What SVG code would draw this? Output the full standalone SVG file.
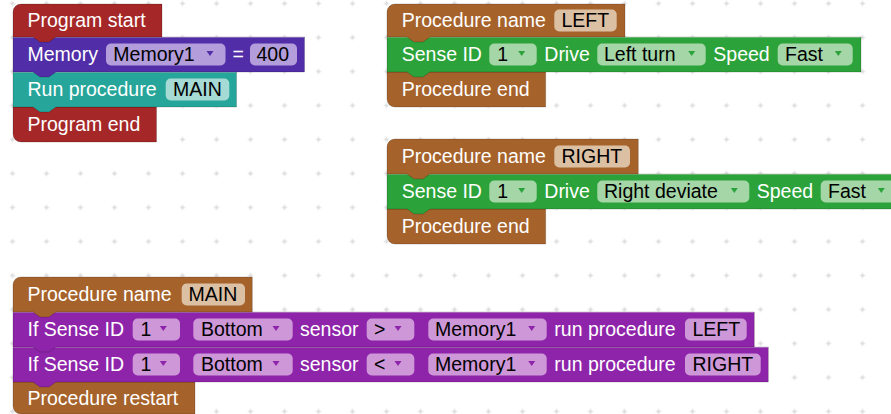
<svg xmlns="http://www.w3.org/2000/svg" xmlns:xlink="http://www.w3.org/1999/xlink" width="891" height="414" viewBox="0 0 891 414">
<style>
.t{font-family:"Liberation Sans",Arial,Helvetica,sans-serif;font-size:19.5px;fill:#fff}
.k{fill:#000}
.b{stroke:#000;stroke-opacity:.18;stroke-width:1}
.red{fill:#a52727}.ind{fill:#512da8}.teal{fill:#26a69a}.brn{fill:#a6622b}.grn{fill:#2ca33a}.pur{fill:#8e24aa}
.pind{fill:#b39ddb}.pteal{fill:#a6dad4}.pbrn{fill:#dcc0a4}.pgrn{fill:#a5d6a7}.ppur{fill:#ce97d8}
.hl{stroke:#fff;stroke-opacity:.3;stroke-width:1;fill:none}
</style>
<defs>
<pattern id="grid" x="-4.5" y="-13.5" width="34" height="34" patternUnits="userSpaceOnUse">
<path d="M14.5,17H19.5M17,14.5V19.5" stroke="#cfcfcf" stroke-width="1" fill="none"/>
</pattern>
<path id="arr" d="M-3.5,-3.5h7l-3.5,5z"/>
</defs>
<rect width="891" height="414" fill="#fff"/>
<rect width="891" height="414" fill="url(#grid)"/>
<g id="connectors"></g>

<!-- Stack A -->
<g id="program-end">
<path class="red b" d="M13,107H156.5V142H21A8,8 0 0 1 13,134Z"/>
<text class="t" x="27.5" y="131">Program end</text>
</g>
<g id="run-procedure">
<path class="teal b" d="M13,72H236.5V107H56L49,112H40L33,107H13Z"/>
<path class="hl" d="M13,72.5H236"/>
<text class="t" x="27.5" y="96">Run procedure</text>
<rect class="pteal" x="165.7" y="78.5" width="63.6" height="22" rx="5"/>
<text class="t k" x="173" y="96">MAIN</text>
</g>
<g id="memory">
<path class="ind b" d="M13,37H304.5V72H56L49,77H40L33,72H13Z"/>
<path class="hl" d="M13,37.5H304"/>
<text class="t" x="27.5" y="61">Memory</text>
<rect class="pind" x="106" y="43.5" width="119.5" height="22" rx="5"/>
<text class="t k" x="113.3" y="61">Memory1</text>
<use href="#arr" x="210" y="54.5" class="ind"/>
<text class="t" x="232.5" y="61">=</text>
<rect class="pind" x="250" y="43.5" width="47" height="22" rx="5"/>
<text class="t k" x="256.5" y="61">400</text>
</g>
<g id="program-start">
<path class="red b" d="M13,12A8,8 0 0 1 21,4H162V37H56L49,42H40L33,37H13Z"/>
<text class="t" x="27.5" y="27">Program start</text>
</g>

<!-- Stack B -->
<g id="left-end">
<path class="brn b" d="M387,72H545.7V107H395A8,8 0 0 1 387,99Z"/>
<text class="t" x="401.7" y="96">Procedure end</text>
</g>
<g id="left-drive">
<path class="grn b" d="M387,37H861V72H430L423,77H414L407,72H387Z"/>
<path class="hl" d="M387,37.5H860.5"/>
<text class="t" x="401.7" y="61">Sense ID</text>
<rect class="pgrn" x="489.3" y="43.5" width="47.4" height="22" rx="5"/>
<text class="t k" x="497.3" y="61">1</text>
<use href="#arr" x="521.7" y="54.5" class="grn"/>
<text class="t" x="544.3" y="61">Drive</text>
<rect class="pgrn" x="597.3" y="43.5" width="108.4" height="22" rx="5"/>
<text class="t k" x="604" y="61">Left turn</text>
<use href="#arr" x="691.7" y="54.5" class="grn"/>
<text class="t" x="713.3" y="61">Speed</text>
<rect class="pgrn" x="777.7" y="43.5" width="75" height="22" rx="5"/>
<text class="t k" x="785" y="61">Fast</text>
<use href="#arr" x="838.3" y="54.5" class="grn"/>
</g>
<g id="left-name">
<path class="brn b" d="M387,12A8,8 0 0 1 395,4H625V37H430L423,42H414L407,37H387Z"/>
<text class="t" x="401.7" y="27">Procedure name</text>
<rect class="pbrn" x="554.3" y="9.5" width="62.4" height="22" rx="5"/>
<text class="t k" x="561.5" y="27">LEFT</text>
</g>

<!-- Stack C -->
<g id="right-end">
<path class="brn b" d="M387,209H545.7V244H395A8,8 0 0 1 387,236Z"/>
<text class="t" x="401.7" y="233">Procedure end</text>
</g>
<g id="right-drive">
<path class="grn b" d="M387,174H905V209H430L423,214H414L407,209H387Z"/>
<path class="hl" d="M387,174.5H904"/>
<text class="t" x="401.7" y="198">Sense ID</text>
<rect class="pgrn" x="489.3" y="180.5" width="47.4" height="22" rx="5"/>
<text class="t k" x="497.3" y="198">1</text>
<use href="#arr" x="521.7" y="191.5" class="grn"/>
<text class="t" x="544.3" y="198">Drive</text>
<rect class="pgrn" x="597.3" y="180.5" width="152" height="22" rx="5"/>
<text class="t k" x="604" y="198">Right deviate</text>
<use href="#arr" x="734.3" y="191.5" class="grn"/>
<text class="t" x="756.7" y="198">Speed</text>
<rect class="pgrn" x="820.7" y="180.5" width="75" height="22" rx="5"/>
<text class="t k" x="828" y="198">Fast</text>
<use href="#arr" x="881.3" y="191.5" class="grn"/>
</g>
<g id="right-name">
<path class="brn b" d="M387,147A8,8 0 0 1 395,139H638.3V174H430L423,179H414L407,174H387Z"/>
<text class="t" x="401.7" y="163">Procedure name</text>
<rect class="pbrn" x="554.3" y="145.5" width="75.7" height="22" rx="5"/>
<text class="t k" x="561.5" y="163">RIGHT</text>
</g>

<!-- Stack D -->
<g id="main-restart">
<path class="brn b" d="M13,382H195V414H21A8,8 0 0 1 13,406Z"/>
<text class="t" x="27.5" y="405">Procedure restart</text>
</g>
<g id="main-if-right">
<path class="pur b" d="M13,347H768.3V382H56L49,387H40L33,382H13Z"/>
<path class="hl" d="M13,347.5H768"/>
<text class="t" x="27.5" y="371">If Sense ID</text>
<rect class="ppur" x="132.7" y="353.5" width="47.3" height="22" rx="5"/>
<text class="t k" x="140.5" y="371">1</text>
<use href="#arr" x="163.3" y="364.5" class="pur"/>
<rect class="ppur" x="193.3" y="353.5" width="99.4" height="22" rx="5"/>
<text class="t k" x="201" y="371">Bottom</text>
<use href="#arr" x="276" y="364.5" class="pur"/>
<text class="t" x="300" y="371">sensor</text>
<rect class="ppur" x="366.7" y="353.5" width="47.6" height="22" rx="5"/>
<text class="t k" x="374" y="371">&lt;</text>
<use href="#arr" x="398" y="364.5" class="pur"/>
<rect class="ppur" x="428.3" y="353.5" width="118.4" height="22" rx="5"/>
<text class="t k" x="435" y="371">Memory1</text>
<use href="#arr" x="531.7" y="364.5" class="pur"/>
<text class="t" x="554.3" y="371">run procedure</text>
<rect class="ppur" x="685" y="353.5" width="75.7" height="22" rx="5"/>
<text class="t k" x="692.5" y="371">RIGHT</text>
</g>
<g id="main-if-left">
<path class="pur b" d="M13,312H754.3V347H56L49,352H40L33,347H13Z"/>
<path class="hl" d="M13,312.5H754"/>
<text class="t" x="27.5" y="336">If Sense ID</text>
<rect class="ppur" x="132.7" y="318.5" width="47.3" height="22" rx="5"/>
<text class="t k" x="140.5" y="336">1</text>
<use href="#arr" x="163.3" y="329.5" class="pur"/>
<rect class="ppur" x="193.3" y="318.5" width="99.4" height="22" rx="5"/>
<text class="t k" x="201" y="336">Bottom</text>
<use href="#arr" x="276" y="329.5" class="pur"/>
<text class="t" x="300" y="336">sensor</text>
<rect class="ppur" x="366.7" y="318.5" width="47.6" height="22" rx="5"/>
<text class="t k" x="374" y="336">&gt;</text>
<use href="#arr" x="398" y="329.5" class="pur"/>
<rect class="ppur" x="428.3" y="318.5" width="118.4" height="22" rx="5"/>
<text class="t k" x="435" y="336">Memory1</text>
<use href="#arr" x="531.7" y="329.5" class="pur"/>
<text class="t" x="554.3" y="336">run procedure</text>
<rect class="ppur" x="685" y="318.5" width="61.7" height="22" rx="5"/>
<text class="t k" x="692.5" y="336">LEFT</text>
</g>
<g id="main-name">
<path class="brn b" d="M13,285A8,8 0 0 1 21,277H252.3V312H56L49,317H40L33,312H13Z"/>
<text class="t" x="27.5" y="301">Procedure name</text>
<rect class="pbrn" x="181.7" y="283.5" width="63.3" height="22" rx="5"/>
<text class="t k" x="188.5" y="301">MAIN</text>
</g>
</svg>
